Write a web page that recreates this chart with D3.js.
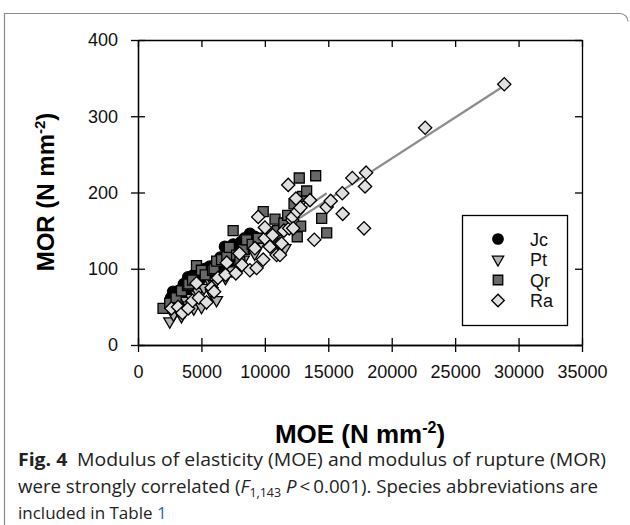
<!DOCTYPE html>
<html>
<head>
<meta charset="utf-8">
<script src="https://cdn.jsdelivr.net/npm/d3@7"></script>
<style>
  body { margin: 0; background: #fff; }
  svg { display: block; }
</style>
</head>
<body>
<svg id="chart" width="630" height="525"></svg>
<script>

// MOE / MOR values per species
let jcMOE = [2600, 2763, 3000, 3300, 3500, 3600, 3948, 4000, 4200, 4400, 4700, 4800, 5000, 5300, 5500, 5661, 5900, 6000, 6200, 6500, 6600, 6845, 7000, 7200, 7300, 7500, 7800, 8100, 8400, 8819, 9200];
let jcMOR = [62, 70, 66, 72, 60, 80, 89, 70, 85, 92, 95, 78, 88, 100, 90, 103, 96, 102, 108, 115, 98, 129, 124, 120, 110, 132, 128, 135, 140, 146, 142];

let ptMOE = [2503, 2800, 3200, 3426, 3700, 3800, 4000, 4200, 4400, 4600, 4700, 5005, 5200, 5400, 5600, 5800, 6000, 6190, 6450, 6900, 7000, 7400, 7600, 7900, 8300, 8558, 8800, 9200, 9700, 10200, 11580, 12979];
let ptMOR = [31, 40, 55, 38, 45, 58, 52, 62, 48, 66, 70, 50, 75, 56, 85, 68, 80, 59, 92, 88, 108, 98, 118, 105, 112, 140, 128, 120, 135, 140, 127, 190];

let qrMOE = [1974, 2500, 3000, 3426, 3900, 4000, 4300, 4611, 5000, 5300, 5874, 6000, 6200, 6584, 7000, 7200, 7500, 7769, 8029, 8300, 8558, 9000, 9474, 9870, 10200, 10600, 10800, 11000, 11500, 11800, 12300, 12553, 12711, 12822, 12979, 13294, 14005, 14479, 14873];
let qrMOR = [48, 55, 62, 71, 78, 80, 85, 104, 98, 92, 98, 100, 110, 112, 116, 128, 150, 118, 109, 125, 138, 132, 140, 175, 148, 135, 165, 150, 160, 170, 185, 142, 219, 156, 195, 202, 222, 166, 147];

let raMOE = [2637, 3158, 3500, 3948, 4300, 4611, 4800, 5400, 5800, 6000, 6300, 6900, 7000, 7714, 8000, 8200, 8819, 9213, 9348, 9474, 9869, 10000, 10003, 10398, 10611, 10927, 11187, 11190, 11321, 11500, 11843, 11921, 12158, 12190, 12237, 12451, 12553, 12800, 13556, 13895, 14873, 15190, 16106, 16137, 16897, 17819, 17898, 17977, 22636, 28872];
let raMOR = [48, 50, 42, 48, 58, 81, 62, 56, 75, 70, 88, 92, 108, 94, 120, 105, 98, 127, 101, 168, 112, 140, 154, 129, 144, 118, 133, 118, 133, 150, 210, 153, 164, 168, 153, 192, 175, 180, 190, 138, 181, 189, 199, 172, 219, 153, 208, 226, 285, 342];

// fitted lines: [start MOE, start MOR, end MOE, end MOR]
let allFit = [2000, 51, 28870, 340];
let qrFit = [2500, 58, 14870, 199];

let xTicks = [0, 5000, 10000, 15000, 20000, 25000, 30000, 35000];
let yTicks = [0, 100, 200, 300, 400];

let species = ["Jc", "Pt", "Qr", "Ra"];

let svg = d3.select("#chart");

// figure frame
svg.append("path")
    .attr("d", "M4.5,525 V13.5 H620 A8,8 0 0 1 628,21.5")
    .attr("fill", "none")
    .attr("stroke", "#8a8a8a")
    .attr("stroke-width", 1.2);

let x = d3.scaleLinear().domain([0, 35000]).range([138, 582]);
let y = d3.scaleLinear().domain([0, 400]).range([345, 40]);

let font = "'Liberation Sans', Arial, sans-serif";
let plain = d => String(d);

// axes - ticks cross the bottom/left axes, inward on top/right
svg.append("g").attr("transform", "translate(0,345)")
    .call(d3.axisBottom(x).tickValues(xTicks).tickFormat(plain).tickSize(7).tickSizeOuter(0).tickPadding(13));
svg.append("g").attr("transform", "translate(0,345)")
    .call(d3.axisTop(x).tickValues(xTicks).tickSize(7).tickSizeOuter(0).tickFormat(""));
svg.append("g").attr("transform", "translate(138,0)")
    .call(d3.axisLeft(y).tickValues(yTicks).tickFormat(plain).tickSize(7).tickSizeOuter(0).tickPadding(13));
svg.append("g").attr("transform", "translate(138,0)")
    .call(d3.axisRight(y).tickValues(yTicks).tickSize(7).tickSizeOuter(0).tickFormat(""));
svg.append("g").attr("transform", "translate(0,40)")
    .call(d3.axisBottom(x).tickValues(xTicks).tickSize(7).tickSizeOuter(0).tickFormat(""));
svg.append("g").attr("transform", "translate(582,0)")
    .call(d3.axisLeft(y).tickValues(yTicks).tickSize(7).tickSizeOuter(0).tickFormat(""));

svg.selectAll(".domain, .tick line").attr("stroke", "#000").attr("stroke-width", 1.3);
svg.selectAll(".tick text")
    .attr("fill", "#111")
    .style("font-family", font)
    .style("font-size", "18px");

// fit lines
[allFit, qrFit].forEach(f => {
    svg.append("line")
        .attr("x1", x(f[0])).attr("y1", y(f[1]))
        .attr("x2", x(f[2])).attr("y2", y(f[3]))
        .attr("stroke", "#8c8c8c")
        .attr("stroke-width", 2.2);
});

// symbol styles per species
let sym = {
    Jc: {type: d3.symbolCircle, size: 95, fill: "#000", rot: 0},
    Pt: {type: d3.symbolTriangle, size: 62, fill: "#b4b4b4", rot: 180},
    Qr: {type: d3.symbolSquare, size: 100, fill: "#686868", rot: 0},
    Ra: {type: d3.symbolSquare, size: 88, fill: "#e0e0e0", rot: 45}
};

let series = {
    Jc: d3.zip(jcMOE, jcMOR),
    Pt: d3.zip(ptMOE, ptMOR),
    Qr: d3.zip(qrMOE, qrMOR),
    Ra: d3.zip(raMOE, raMOR)
};

species.forEach(sp => {
    let s = sym[sp];
    svg.append("g")
        .selectAll("path")
        .data(series[sp])
        .enter()
        .append("path")
        .attr("d", d3.symbol().type(s.type).size(s.size))
        .attr("transform", d => "translate(" + x(d[0]) + "," + y(d[1]) + ") rotate(" + s.rot + ")")
        .attr("fill", s.fill)
        .attr("stroke", "#000")
        .attr("stroke-width", 1.3);
});

// legend
let lg = svg.append("g");
lg.append("rect")
    .attr("x", 462.5).attr("y", 215.5)
    .attr("width", 105).attr("height", 110)
    .attr("fill", "#fff")
    .attr("stroke", "#000")
    .attr("stroke-width", 1.3);

species.forEach((sp, i) => {
    let s = sym[sp];
    let yy = 239 + i * 20.5;
    lg.append("path")
        .attr("d", d3.symbol().type(s.type).size(s.size * 0.9))
        .attr("transform", "translate(498," + yy + ") rotate(" + s.rot + ")")
        .attr("fill", s.fill)
        .attr("stroke", "#000")
        .attr("stroke-width", 1.3);
    lg.append("text")
        .attr("x", 530).attr("y", yy + 6.5)
        .style("font-family", font)
        .style("font-size", "18px")
        .attr("fill", "#111")
        .text(sp);
});

// axis titles
let xt = svg.append("text")
    .attr("x", 360).attr("y", 443)
    .attr("text-anchor", "middle")
    .style("font-family", font)
    .style("font-size", "26px")
    .style("font-weight", "bold");
xt.append("tspan").text("MOE (N mm");
xt.append("tspan").attr("dy", -10).style("font-size", "16px").text("-2");
xt.append("tspan").attr("dy", 10).text(")");

let yt = svg.append("text")
    .attr("transform", "translate(54,192) rotate(-90)")
    .attr("text-anchor", "middle")
    .style("font-family", font)
    .style("font-size", "24px")
    .style("font-weight", "bold");
yt.append("tspan").text("MOR (N mm");
yt.append("tspan").attr("dy", -9).style("font-size", "15px").text("-2");
yt.append("tspan").attr("dy", 9).text(")");

// caption
let capFont = "'Open Sans', 'Noto Sans', sans-serif";
let c1 = svg.append("text")
    .attr("x", 18).attr("y", 466)
    .attr("textLength", 588).attr("lengthAdjust", "spacingAndGlyphs")
    .style("font-family", capFont).style("font-size", "18px").attr("fill", "#222");
c1.append("tspan").style("font-weight", "bold").text("Fig. 4");
c1.append("tspan").text("\u2002Modulus of elasticity (MOE) and modulus of rupture (MOR)");

let c2 = svg.append("text")
    .attr("x", 18).attr("y", 493)
    .attr("textLength", 580).attr("lengthAdjust", "spacingAndGlyphs")
    .style("font-family", capFont).style("font-size", "18px").attr("fill", "#222");
c2.append("tspan").text("were strongly correlated (");
c2.append("tspan").style("font-style", "italic").text("F");
c2.append("tspan").attr("dy", 4).style("font-size", "12px").text("1,143");
c2.append("tspan").attr("dy", -4).text(" ");
c2.append("tspan").style("font-style", "italic").text("P");
c2.append("tspan").text("\u2009<\u20090.001). Species abbreviations are");

let c3 = svg.append("text")
    .attr("x", 18).attr("y", 519)
    .style("font-family", capFont).style("font-size", "17px").attr("fill", "#222");
c3.append("tspan").text("included in Table ");
c3.append("tspan").attr("fill", "#1a66c9").text("1");

</script>
</body>
</html>
